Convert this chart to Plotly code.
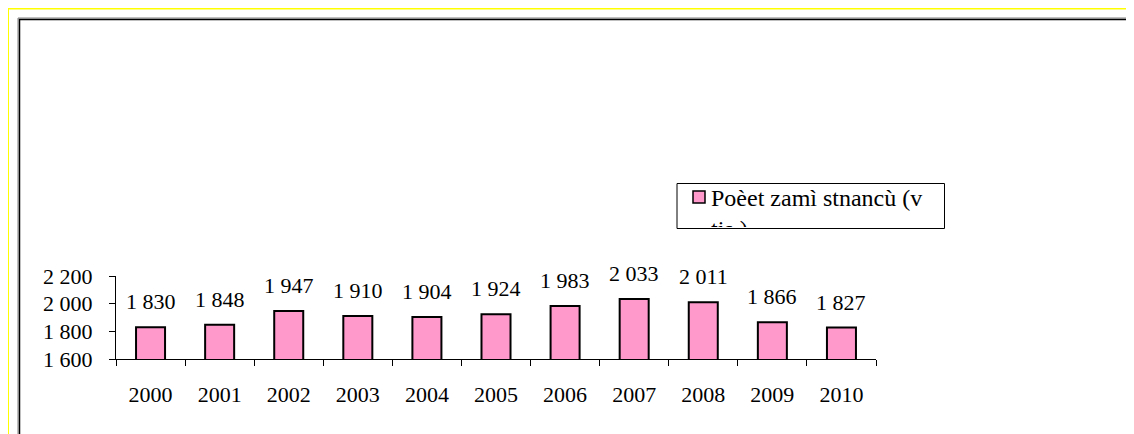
import plotly.graph_objects as go

years = ["2000", "2001", "2002", "2003", "2004", "2005", "2006", "2007", "2008", "2009", "2010"]
values = [1830, 1848, 1947, 1910, 1904, 1924, 1983, 2033, 2011, 1866, 1827]
series_name = "Poèet zamì stnancù (v tis.)"
y_ticks = [1600, 1800, 2000, 2200]

OFF = 8  # page body margin
W, H = 1134 - OFF, 434 - OFF
# plot area in screen pixels
SL, SR, ST, SB = 116, 876, 276, 359
L, R, T, B = SL - OFF, SR - OFF, ST - OFF, SB - OFF


def px(p):  # screen x -> paper
    return (p - SL) / (SR - SL)


def py(p):  # screen y -> paper
    return (SB - p) / (SB - ST)


FONT = "Liberation Serif, Times New Roman, serif"
PINK = "#FF99CC"

fig = go.Figure()
fig.add_trace(go.Bar(
    x=years, y=values, name=series_name,
    marker=dict(color=PINK, line=dict(color="black", width=2)),
    showlegend=False,
))


def fmt(v):
    return f"{v:,}".replace(",", " ")


annotations = []
for i, v in enumerate(values):
    annotations.append(dict(
        x=i, y=v, xref="x", yref="y", text=fmt(v), showarrow=False,
        yanchor="bottom", yshift=11, font=dict(family=FONT, size=22, color="black"),
    ))

# legend text (clipped like the original)
annotations.append(dict(
    xref="paper", yref="paper", x=px(710), y=py(184), xanchor="left", yanchor="top",
    text="Poèet zamì stnancù (v<br>tis.)", showarrow=False, align="left", valign="top",
    width=232, height=42, borderpad=0,
    font=dict(family=FONT, size=24, color="black"),
))

shapes = [
    # yellow lines
    dict(type="line", xref="paper", yref="paper", x0=px(7), x1=px(1140), y0=py(8.5), y1=py(8.5),
         line=dict(color="#FFFF00", width=2)),
    dict(type="line", xref="paper", yref="paper", x0=px(8), x1=px(8), y0=py(8), y1=py(440),
         line=dict(color="#FFFF00", width=2)),
    # frame
    dict(type="rect", xref="paper", yref="paper", x0=px(18), x1=px(1132.5), y0=py(450), y1=py(18),
         line=dict(color="#808080", width=1)),
    dict(type="rect", xref="paper", yref="paper", x0=px(19.5), x1=px(1131.5), y0=py(450), y1=py(19.5),
         line=dict(color="black", width=1.5)),
    # legend box
    dict(type="rect", xref="paper", yref="paper", x0=px(677), x1=px(944.5), y0=py(228.5), y1=py(183.5),
         line=dict(color="black", width=1)),
    # legend marker
    dict(type="rect", xref="paper", yref="paper", x0=px(693), x1=px(705), y0=py(203), y1=py(191),
         fillcolor=PINK, line=dict(color="black", width=1.5)),
]

fig.update_layout(
    width=W, height=H,
    margin=dict(l=L, r=W - R, t=T, b=H - B, pad=0, autoexpand=False),
    paper_bgcolor="white", plot_bgcolor="white",
    bargap=0.58,
    separators=". ",
    showlegend=False,
    font=dict(family=FONT, size=22, color="black"),
    annotations=annotations,
    shapes=shapes,
)
fig.update_xaxes(
    type="category", range=[-0.5, len(years) - 0.5], automargin=False, tickangle=0,
    showline=True, linecolor="black", linewidth=1,
    ticks="outside", tickson="boundaries", ticklen=6, tickcolor="black", tickwidth=1,
    showgrid=False, zeroline=False, ticklabelstandoff=16,
    tickfont=dict(family=FONT, size=22, color="black"),
)
fig.update_yaxes(
    range=[1600, 2200], tickvals=y_ticks, ticktext=[fmt(v) for v in y_ticks], automargin=False,
    showline=True, linecolor="black", linewidth=1,
    ticks="outside", ticklen=6, tickcolor="black", tickwidth=1,
    showgrid=False, zeroline=False, ticklabelstandoff=12,
    tickfont=dict(family=FONT, size=22, color="black"),
)

fig.write_html("out.html")
